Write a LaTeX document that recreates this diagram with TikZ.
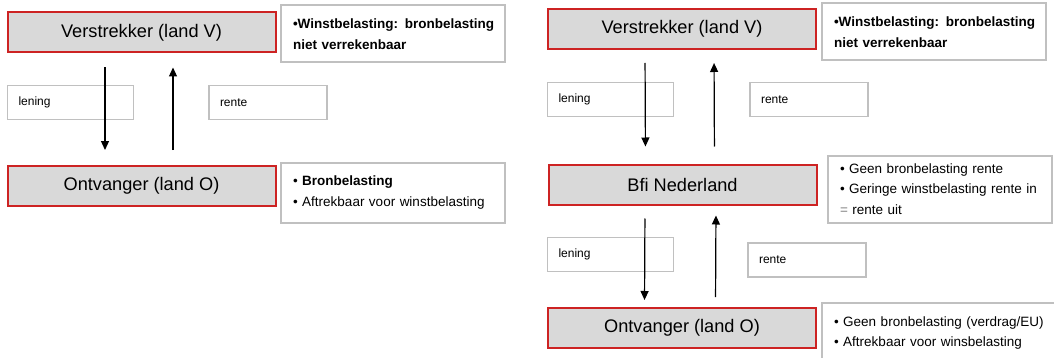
\documentclass[tikz,border=0pt]{standalone}
\usepackage{fontspec}
\setmainfont{Liberation Sans}
\usetikzlibrary{arrows.meta,calc,positioning}
\definecolor{boxgray}{RGB}{217,217,217}
\definecolor{boxred}{RGB}{205,35,35}
\definecolor{linegray}{RGB}{192,192,192}
\tikzset{
  partij/.style={draw=boxred,line width=1pt,fill=boxgray,minimum width=134pt,
    minimum height=20pt,inner sep=0pt,font=\fontsize{9.1}{11}\selectfont},
  info/.style={draw=linegray,line width=1pt,fill=white,minimum width=112pt,
    text width=100pt,inner xsep=6pt,align=left,font=\fontsize{6.75}{10.2}\selectfont},
  stroombox/.style={draw=linegray,line width=0.8pt,fill=white,minimum height=17pt,
    text width=#1,inner xsep=5.5pt,align=left,font=\fontsize{6}{7}\selectfont},
  stroom/.style={-{Triangle[length=4.5pt,width=4pt]},line width=0.6pt}
}
\begin{document}
\begin{tikzpicture}[x=0.5pt,y=-0.5pt]
  \clip (0,0) rectangle (1054,358);
  \fill[white] (0,0) rectangle (1054,358);
  \node[partij](verA) at (141.5,32.5){Verstrekker (land V)};
  \node[partij](ontA) at (141.5,186){Ontvanger (land O)};
  \node[info,minimum height=28.5pt](infoVA) at (393,34)
    {\bfseries\mbox{•Winstbelasting: bronbelasting}\\niet verrekenbaar};
  \node[info,minimum height=30pt](infoOA) at (393,192.5)
    {• \textbf{Bronbelasting}\\\mbox{• Aftrekbaar voor winstbelasting}};
  \node[stroombox=52pt](lenA) at (70.5,102.5){lening};
  \node[stroombox=48pt](renA) at (268,102.5){rente};
  \draw[stroom,shorten <=7pt,shorten >=7.5pt]([xshift=-18.25pt]verA.south)--([xshift=-18.25pt]ontA.north);
  \draw[stroom,shorten <=7.5pt,shorten >=7pt]([xshift=15.75pt]ontA.north)--([xshift=15.75pt]verA.south);

  \node[partij](verB) at (682,29){Verstrekker (land V)};
  \node[partij](bfiB) at (682.5,184.5){Bfi Nederland};
  \node[partij](ontB) at (682,328){Ontvanger (land O)};
  \node[info,minimum height=28.5pt](infoVB) at (934,32)
    {\bfseries\mbox{•Winstbelasting: bronbelasting}\\niet verrekenbaar};
  \node[info,minimum height=33.5pt](infoBB) at (940,189)
    {• Geen bronbelasting rente\\\mbox{• Geringe winstbelasting rente in}\\{\color{gray}=} rente uit};
  \node[info,minimum height=30pt,minimum width=120pt,inner xsep=5pt,text width=108pt](infoOB) at (942,333)
    {\mbox{• Geen bronbelasting (verdrag/EU)}\\\mbox{• Aftrekbaar voor winsbelasting}};
  \node[stroombox=52pt](lenB) at (610.5,99.5){lening};
  \node[stroombox=48pt](renB) at (809,99.5){rente};
  \node[stroombox=52pt](lenC) at (610.5,254.5){lening};
  \node[stroombox=48pt](renC) at (807,260){rente};
  \draw[stroom,shorten <=6.5pt,shorten >=8.5pt]([xshift=-18.5pt]verB.south)--([xshift=-18.5pt]bfiB.north);
  \draw[stroom,shorten <=8.5pt,shorten >=6.5pt]([xshift=16pt]bfiB.north)--([xshift=16pt]verB.south);
  \draw[stroom,shorten <=6.5pt,shorten >=3.5pt]([xshift=-18.75pt]bfiB.south)--([xshift=-18.75pt]ontB.north);
  \draw[stroom,shorten <=5pt,shorten >=5pt]([xshift=16.75pt]ontB.north)--([xshift=16.75pt]bfiB.south);
\end{tikzpicture}
\end{document}
